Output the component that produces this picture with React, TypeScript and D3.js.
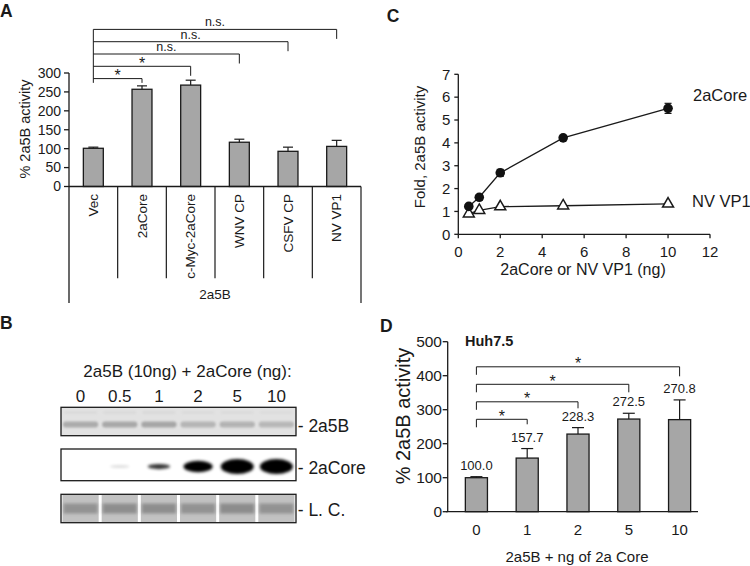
import React from "react";
import * as d3 from "d3";

const FONT = "'Liberation Sans', Arial, Helvetica, sans-serif";
const INK = "#1a1a1a";
const BAR = "#a6a6a6";

// ---------------- Panel A data
const aCategories = ["Vec", "2aCore", "c-Myc-2aCore", "WNV CP", "CSFV CP", "NV VP1"];
const aValues = [101, 257, 268, 117, 93, 106];
const aErrors = [3, 9, 13, 8, 11, 16];
const aTicks = [0, 50, 100, 150, 200, 250, 300];
const aGroupLabel = "2a5B";
const aYTitle = "% 2a5B activity";
const aComparisons = [
  { to: "2aCore", label: "*" },
  { to: "c-Myc-2aCore", label: "*" },
  { to: "WNV CP", label: "n.s." },
  { to: "CSFV CP", label: "n.s." },
  { to: "NV VP1", label: "n.s." },
];

// ---------------- Panel B data
const laneDoses = ["0", "0.5", "1", "2", "5", "10"];
const blotTitle = "2a5B (10ng) + 2aCore (ng):";
const band2a5B = [0.42, 0.44, 0.46, 0.34, 0.36, 0.32];
const band2aCore = [0, 0.12, 0.5, 0.85, 1, 1];
const bandLC = [0.55, 0.6, 0.6, 0.55, 0.62, 0.55];
const blotLabels = ["- 2a5B", "- 2aCore", "- L. C."];

// ---------------- Panel C data
const cDoses = [0.5, 1, 2, 5, 10];
const cCoreFold = [1.22, 1.62, 2.69, 4.22, 5.51];
const cCoreErr = [0.08, 0.12, 0.15, 0.08, 0.22];
const cVp1Fold = [0.9, 1.05, 1.21, 1.25, 1.33];
const cVp1Err = [0.05, 0.05, 0.06, 0.06, 0.06];
const cXTicks = [0, 2, 4, 6, 8, 10, 12];
const cYTicks = [0, 1, 2, 3, 4, 5, 6, 7];
const cSeriesNames = ["2aCore", "NV VP1"];
const cXTitle = "2aCore or NV VP1 (ng)";
const cYTitle = "Fold, 2a5B activity";

// ---------------- Panel D data
const dCategories = ["0", "1", "2", "5", "10"];
const dValues = [100.0, 157.7, 228.3, 272.5, 270.8];
const dErrors = [3, 28, 19, 17, 58];
const dTicks = [0, 100, 200, 300, 400, 500];
const dComparisons = [
  { to: "1", label: "*" },
  { to: "2", label: "*" },
  { to: "5", label: "*" },
  { to: "10", label: "*" },
];
const dTitle = "Huh7.5";
const dXTitle = "2a5B + ng of 2a Core";
const dYTitle = "% 2a5B activity";

function PanelA() {
  const x0 = 69, x1 = 361, yBase = 186.5, yTop = 73;
  const y = d3.scaleLinear().domain([0, 300]).range([yBase, yTop]);
  const x = d3.scaleBand<string>().domain(aCategories).range([x0, x1]).paddingInner(0.59).paddingOuter(0.295);
  const bw = x.bandwidth();
  const step = x.step();
  const cx = (c: string) => (x(c) as number) + bw / 2;
  const bounds = d3.range(aCategories.length + 1).map((i) => x0 + i * step);
  const leftX = cx(aCategories[0]);
  const brackets = aComparisons.map((c, i) => {
    const idx = aCategories.indexOf(c.to);
    const level = 78.6 - i * 12.3;
    const errTop = y(aValues[idx] + aErrors[idx]);
    const tip = Math.min(level + 9.5, errTop - 3);
    return { ...c, level, tip, xr: cx(c.to) };
  });
  return (
    <g fontFamily={FONT} fill={INK}>
      <text x={0} y={17} fontSize={17.5} fontWeight="bold">A</text>
      {aCategories.map((c, i) => (
        <g key={c}>
          <rect x={x(c)} y={y(aValues[i])} width={bw} height={yBase - y(aValues[i])} fill={BAR} stroke={INK} strokeWidth={1.3} />
          <line x1={cx(c)} x2={cx(c)} y1={y(aValues[i])} y2={y(aValues[i] + aErrors[i])} stroke={INK} strokeWidth={1.2} />
          <line x1={cx(c) - 5} x2={cx(c) + 5} y1={y(aValues[i] + aErrors[i])} y2={y(aValues[i] + aErrors[i])} stroke={INK} strokeWidth={1.2} />
        </g>
      ))}
      <line x1={x0} x2={x0} y1={yTop} y2={303} stroke={INK} strokeWidth={1.3} />
      {aTicks.map((t) => (
        <g key={t}>
          <line x1={x0 - 5} x2={x0} y1={y(t)} y2={y(t)} stroke={INK} strokeWidth={1.3} />
          <text x={61} y={y(t)} dy="0.35em" textAnchor="end" fontSize={14}>{t}</text>
        </g>
      ))}
      <text transform={`translate(30,129) rotate(-90)`} textAnchor="middle" fontSize={14.5}>{aYTitle}</text>
      <line x1={x0} x2={x1} y1={yBase} y2={yBase} stroke={INK} strokeWidth={1.3} />
      {bounds.slice(1).map((b, i) => (
        <line key={i} x1={b} x2={b} y1={yBase} y2={i === bounds.length - 2 ? 303 : 278.3} stroke={INK} strokeWidth={1.2} />
      ))}
      {aCategories.map((c) => (
        <text key={c} transform={`translate(${cx(c)},194) rotate(-90)`} dy="0.35em" textAnchor="end" fontSize={13.5}>{c}</text>
      ))}
      <text x={(x0 + x1) / 2} y={299} textAnchor="middle" fontSize={13.5}>{aGroupLabel}</text>
      <line x1={leftX} x2={leftX} y1={brackets[brackets.length - 1].level} y2={brackets[0].tip} stroke={INK} strokeWidth={1} />
      {brackets.map((b) => (
        <g key={b.to}>
          <path d={`M${leftX},${b.level}H${b.xr}V${b.tip}`} fill="none" stroke={INK} strokeWidth={1} />
          <text x={(leftX + b.xr) / 2} y={b.label === "*" ? b.level + 2.5 : b.level - 3} textAnchor="middle" fontSize={b.label === "*" ? 16 : 12.5}>{b.label}</text>
        </g>
      ))}
    </g>
  );
}

function PanelB() {
  const lane = d3.scaleBand<string>().domain(laneDoses).range([61, 296]);
  const bw = lane.bandwidth();
  const lc = (d: string) => (lane(d) as number) + bw / 2;
  const rows = [
    { top: 407.3, h: 28.4, band: 425 },
    { top: 449, h: 31.7, band: 466.5 },
    { top: 494.3, h: 28.4, band: 508.5 },
  ];
  return (
    <g fontFamily={FONT} fill={INK}>
      <defs>
        <filter id="blurS" x="-50%" y="-150%" width="200%" height="400%">
          <feGaussianBlur stdDeviation="1.1" />
        </filter>
        <filter id="blurM" x="-50%" y="-150%" width="200%" height="400%">
          <feGaussianBlur stdDeviation="1.7" />
        </filter>
      </defs>
      <text x={0} y={328.5} fontSize={17.5} fontWeight="bold">B</text>
      <text x={187.5} y={377} textAnchor="middle" fontSize={17}>{blotTitle}</text>
      {laneDoses.map((d) => (
        <text key={d} x={lc(d)} y={401.7} textAnchor="middle" fontSize={17}>{d}</text>
      ))}
      <rect x={61} y={rows[0].top} width={235} height={rows[0].h} fill="#e2e2e2" />
      {laneDoses.map((d, i) => (
        <g key={d}>
          <rect x={lc(d) - bw * 0.45} y={rows[0].band - 3.5} width={bw * 0.9} height={6} rx={3} fill="#606060" opacity={band2a5B[i]} filter="url(#blurS)" />
          <rect x={lc(d) - bw * 0.42} y={rows[0].top + 4} width={bw * 0.84} height={2.5} rx={1} fill="#9a9a9a" opacity={band2a5B[i] * 0.3} filter="url(#blurS)" />
        </g>
      ))}
      <rect x={61} y={rows[0].top} width={235} height={rows[0].h} fill="none" stroke={INK} strokeWidth={1.3} />
      <rect x={61} y={rows[1].top} width={235} height={rows[1].h} fill="#fff" />
      {laneDoses.map((d, i) => {
        const I = band2aCore[i];
        if (I <= 0) return null;
        return (
          <ellipse key={d} cx={lc(d)} cy={rows[1].band} rx={9.5 + 7 * I * I} ry={1 + 6.5 * Math.pow(I, 2)} fill="#000" opacity={Math.min(1, 1.6 * I)} filter="url(#blurM)" />
        );
      })}
      <rect x={61} y={rows[1].top} width={235} height={rows[1].h} fill="none" stroke={INK} strokeWidth={1.3} />
      <rect x={61} y={rows[2].top} width={235} height={rows[2].h} fill="#fff" />
      {laneDoses.map((d, i) => (
        <g key={d}>
          <rect x={(lane(d) as number) + 1.5} y={rows[2].top + 0.5} width={bw - 3} height={rows[2].h - 1} fill="#c2c2c2" />
          <rect x={(lane(d) as number) + 2.5} y={rows[2].band - 5} width={bw - 5} height={10} fill="#505050" opacity={bandLC[i] * 0.75} filter="url(#blurM)" />
        </g>
      ))}
      <rect x={61} y={rows[2].top} width={235} height={rows[2].h} fill="none" stroke={INK} strokeWidth={1.3} />
      {blotLabels.map((l, i) => (
        <text key={l} x={297.7} y={rows[i].band + 1} dy="0.35em" fontSize={17.5}>{l}</text>
      ))}
    </g>
  );
}

function PanelC() {
  const x = d3.scaleLinear().domain([0, 12]).range([458.3, 710]);
  const y = d3.scaleLinear().domain([0, 7]).range([234.3, 74.3]);
  const line = d3.line<number>().x((_, i) => x(cDoses[i])).y((v) => y(v));
  const tri = d3.symbol().type(d3.symbolTriangle).size(52)() as string;
  return (
    <g fontFamily={FONT} fill={INK}>
      <text x={386.7} y={21.5} fontSize={17.5} fontWeight="bold">C</text>
      <line x1={x(0)} x2={x(0)} y1={y(7)} y2={y(0)} stroke={INK} strokeWidth={1.3} />
      <line x1={x(0)} x2={x(12)} y1={y(0)} y2={y(0)} stroke={INK} strokeWidth={1.3} />
      {cYTicks.map((t) => (
        <g key={t}>
          <line x1={x(0) - 4} x2={x(0)} y1={y(t)} y2={y(t)} stroke={INK} strokeWidth={1.3} />
          <text x={x(0) - 8} y={y(t)} dy="0.35em" textAnchor="end" fontSize={15}>{t}</text>
        </g>
      ))}
      {cXTicks.map((t) => (
        <g key={t}>
          <line x1={x(t)} x2={x(t)} y1={y(0)} y2={y(0) + 4} stroke={INK} strokeWidth={1.3} />
          <text x={x(t)} y={256.7} textAnchor="middle" fontSize={15}>{t}</text>
        </g>
      ))}
      <text x={583} y={275} textAnchor="middle" fontSize={16}>{cXTitle}</text>
      <text transform="translate(425,147) rotate(-90)" textAnchor="middle" fontSize={15}>{cYTitle}</text>
      <path d={line(cVp1Fold) as string} fill="none" stroke={INK} strokeWidth={1.3} />
      {cDoses.map((d, i) => (
        <g key={"v" + d}>
          <line x1={x(d)} x2={x(d)} y1={y(cVp1Fold[i] - cVp1Err[i])} y2={y(cVp1Fold[i] + cVp1Err[i])} stroke={INK} strokeWidth={1} />
          <path d={tri} transform={`translate(${x(d)},${y(cVp1Fold[i])})`} fill="#fff" stroke={INK} strokeWidth={1.5} />
        </g>
      ))}
      <path d={line(cCoreFold) as string} fill="none" stroke={INK} strokeWidth={1.3} />
      {cDoses.map((d, i) => (
        <g key={"c" + d}>
          <line x1={x(d)} x2={x(d)} y1={y(cCoreFold[i] - cCoreErr[i])} y2={y(cCoreFold[i] + cCoreErr[i])} stroke={INK} strokeWidth={1.2} />
          <line x1={x(d) - 3.5} x2={x(d) + 3.5} y1={y(cCoreFold[i] + cCoreErr[i])} y2={y(cCoreFold[i] + cCoreErr[i])} stroke={INK} strokeWidth={1.2} />
          <line x1={x(d) - 3.5} x2={x(d) + 3.5} y1={y(cCoreFold[i] - cCoreErr[i])} y2={y(cCoreFold[i] - cCoreErr[i])} stroke={INK} strokeWidth={1.2} />
          <circle cx={x(d)} cy={y(cCoreFold[i])} r={4.8} fill="#111" />
        </g>
      ))}
      <text x={693} y={95} dy="0.35em" fontSize={16.5}>{cSeriesNames[0]}</text>
      <text x={692} y={201.7} dy="0.35em" fontSize={16.5}>{cSeriesNames[1]}</text>
    </g>
  );
}

function PanelD() {
  const yBase = 511.7, yTop = 341.7, ax = 447.7;
  const y = d3.scaleLinear().domain([0, 500]).range([yBase, yTop]);
  const x = d3.scaleBand<string>().domain(dCategories).range([451, 705]).paddingInner(0.565).paddingOuter(0.2825);
  const bw = x.bandwidth();
  const cx = (c: string) => (x(c) as number) + bw / 2;
  const leftX = cx(dCategories[0]);
  const brackets = dComparisons.map((c, i) => {
    const level = 419.3 - i * 17.5;
    return { ...c, level, tip: level + 5 + i * 1.5, xr: cx(c.to) };
  });
  return (
    <g fontFamily={FONT} fill={INK}>
      <text x={380} y={331.7} fontSize={17.5} fontWeight="bold">D</text>
      <text x={465} y={346} fontSize={14.5} fontWeight="bold">{dTitle}</text>
      {dCategories.map((c, i) => {
        const top = y(dValues[i] + dErrors[i]);
        return (
          <g key={c}>
            <rect x={x(c)} y={y(dValues[i])} width={bw} height={yBase - y(dValues[i])} fill={BAR} stroke={INK} strokeWidth={1.3} />
            <line x1={cx(c)} x2={cx(c)} y1={y(dValues[i])} y2={top} stroke={INK} strokeWidth={1.2} />
            <line x1={cx(c) - 6} x2={cx(c) + 6} y1={top} y2={top} stroke={INK} strokeWidth={1.2} />
            <text x={cx(c)} y={top - 7} textAnchor="middle" fontSize={13}>{dValues[i].toFixed(1)}</text>
            <text x={cx(c)} y={535} textAnchor="middle" fontSize={15}>{c}</text>
          </g>
        );
      })}
      <line x1={ax} x2={ax} y1={yTop} y2={yBase} stroke={INK} strokeWidth={1.3} />
      <line x1={446} x2={698} y1={yBase} y2={yBase} stroke={INK} strokeWidth={1.3} />
      {dTicks.map((t) => (
        <g key={t}>
          <line x1={ax - 5} x2={ax} y1={y(t)} y2={y(t)} stroke={INK} strokeWidth={1.3} />
          <text x={442} y={y(t)} dy="0.35em" textAnchor="end" fontSize={15.5}>{t}</text>
        </g>
      ))}
      <text transform="translate(410,416) rotate(-90)" textAnchor="middle" fontSize={20}>{dYTitle}</text>
      <text x={577} y={562} textAnchor="middle" fontSize={15}>{dXTitle}</text>
      {brackets.map((b) => (
        <g key={b.to}>
          <path d={`M${leftX},${b.level + 8}V${b.level}H${b.xr}V${b.tip}`} fill="none" stroke={INK} strokeWidth={1} />
          <text x={(leftX + b.xr) / 2} y={b.level + 2.5} textAnchor="middle" fontSize={16}>{b.label}</text>
        </g>
      ))}
    </g>
  );
}

export default function App() {
  return (
    <svg width={750} height={566} viewBox="0 0 750 566" style={{ position: "absolute", left: 0, top: 0, background: "#fff" }}>
      <rect width={750} height={566} fill="#fff" />
      <PanelA />
      <PanelB />
      <PanelC />
      <PanelD />
    </svg>
  );
}
